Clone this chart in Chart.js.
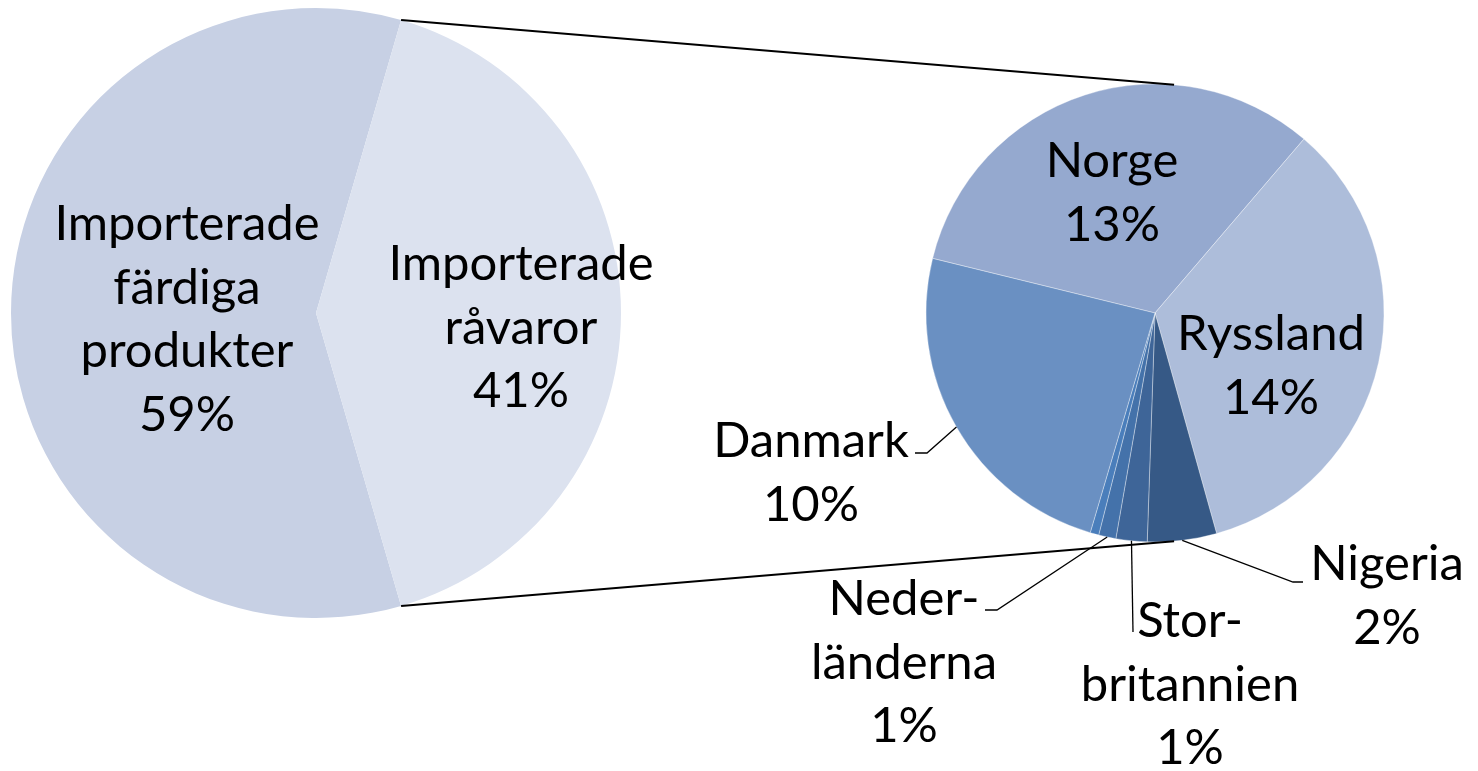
<!DOCTYPE html>
<html>
<head>
<meta charset="utf-8">
<script src="https://cdn.jsdelivr.net/npm/chart.js@4.4.1/dist/chart.umd.min.js"></script>
<style>
    html, body { margin: 0; padding: 0; background: #fff; }
    #wrap { position: relative; width: 1478px; height: 771px; }
    #wrap canvas { position: absolute; left: 0; top: 0; }
</style>
</head>
<body>
<div id="wrap">
    <canvas id="mainPie" width="1478" height="771"></canvas>
    <canvas id="subPie" width="1478" height="771"></canvas>
</div>
<script>
// --- Data ---
// main pie (% of all imports)
const mainNames = ['Importerade färdiga produkter', 'Importerade råvaror'];
const mainLabelLines = [['Importerade', 'färdiga', 'produkter'], ['Importerade', 'råvaror']];
const mainValues = [59, 41];
const mainColors = ['#c7d0e4', '#dce2ef'];

// second pie: råvaror split by country (% of all imports)
const subNames = ['Norge', 'Ryssland', 'Nigeria', 'Storbritannien', 'Nederländerna', 'Övriga', 'Danmark'];
const subLabelLines = [['Norge'], ['Ryssland'], ['Nigeria'], ['Stor-', 'britannien'], ['Neder-', 'länderna'], [], ['Danmark']];
const subValues = [13.3, 14.1, 2.0, 0.9, 0.5, 0.25, 9.95];
const subColors = ['#95a9cf', '#adbdda', '#365986', '#3e6598', '#4472aa', '#4a7ebb', '#6a90c2'];

// --- Layout ---
const FONT = '49px Lato';
const LINE_H = 63.5;
const mainCenter = { x: 316, y: 313, r: 305 };
const subCenter = { x: 1155, y: 313, r: 229 };

// label anchors: centre x, first baseline y; leader: knee point + end x
const mainLabelPos = [{ x: 187, y: 240 }, { x: 521, y: 280 }];
const subLabelPos = [
    { x: 1112, y: 177 },
    { x: 1271, y: 350 },
    { x: 1387, y: 580, knee: [1293, 582], end: 1303 },
    { x: 1190, y: 637, knee: [1133, 632], end: 1133 },
    { x: 904, y: 615, knee: [997, 610], end: 985 },
    null,
    { x: 811, y: 457, knee: [927, 453], end: 915 }
];

function paddingFor(c, w, h) {
    return { left: c.x - c.r, right: w - c.x - c.r, top: c.y - c.r, bottom: h - c.y - c.r };
}

function pct(v) { return Math.round(v) + '%'; }

function drawLabels(ctx, lines, pos) {
    ctx.save();
    ctx.font = FONT;
    ctx.fillStyle = '#000';
    ctx.textAlign = 'center';
    ctx.textBaseline = 'alphabetic';
    lines.forEach((l, i) => ctx.fillText(l, pos.x, pos.y + i * LINE_H));
    ctx.restore();
}

const mainLabelPlugin = {
    id: 'mainLabels',
    afterDraw(chart) {
        const ctx = chart.ctx;
        mainValues.forEach((v, i) => {
            drawLabels(ctx, mainLabelLines[i].concat(pct(v)), mainLabelPos[i]);
        });
    }
};

let mainChart = null;

function tangentPoint(p, c, r, upper) {
    const dx = p.x - c.x, dy = p.y - c.y;
    const d = Math.hypot(dx, dy);
    const base = Math.atan2(dy, dx);
    const off = Math.acos(r / d);
    const a1 = base + off, a2 = base - off;
    const p1 = { x: c.x + r * Math.cos(a1), y: c.y + r * Math.sin(a1) };
    const p2 = { x: c.x + r * Math.cos(a2), y: c.y + r * Math.sin(a2) };
    if (upper) return p1.y < p2.y ? p1 : p2;
    return p1.y > p2.y ? p1 : p2;
}

const subLabelPlugin = {
    id: 'subLabels',
    afterDraw(chart) {
        const ctx = chart.ctx;
        const arcs = chart.getDatasetMeta(0).data;

        // leader lines from slice mid-angle on the rim
        ctx.save();
        ctx.strokeStyle = '#000';
        ctx.lineWidth = 1.3;
        arcs.forEach((arc, i) => {
            const p = subLabelPos[i];
            if (!p || !p.knee) return;
            const mid = (arc.startAngle + arc.endAngle) / 2;
            ctx.beginPath();
            ctx.moveTo(arc.x + arc.outerRadius * Math.cos(mid), arc.y + arc.outerRadius * Math.sin(mid));
            ctx.lineTo(p.knee[0], p.knee[1]);
            ctx.lineTo(p.end, p.knee[1]);
            ctx.stroke();
        });
        ctx.restore();

        // series lines from the råvaror slice to the second pie
        if (mainChart) {
            const src = mainChart.getDatasetMeta(0).data[1];
            const c = { x: arcs[0].x, y: arcs[0].y };
            const r = arcs[0].outerRadius;
            const top = { x: src.x + src.outerRadius * Math.cos(src.startAngle), y: src.y + src.outerRadius * Math.sin(src.startAngle) };
            const bot = { x: src.x + src.outerRadius * Math.cos(src.endAngle), y: src.y + src.outerRadius * Math.sin(src.endAngle) };
            const t1 = tangentPoint(top, c, r, true);
            const t2 = tangentPoint(bot, c, r, false);
            ctx.save();
            ctx.strokeStyle = '#000';
            ctx.lineWidth = 2;
            ctx.beginPath();
            ctx.moveTo(top.x, top.y); ctx.lineTo(t1.x, t1.y);
            ctx.moveTo(bot.x, bot.y); ctx.lineTo(t2.x, t2.y);
            ctx.stroke();
            ctx.restore();
        }

        subValues.forEach((v, i) => {
            if (!subLabelPos[i]) return;
            drawLabels(ctx, subLabelLines[i].concat(pct(v)), subLabelPos[i]);
        });
    }
};

const W = 1478, H = 771;
const mainTotal = mainValues.reduce((a, b) => a + b, 0);

// råvaror slice centred on the right-hand side
const mainRotation = 90 + (mainValues[1] / mainTotal) * 180;

mainChart = new Chart(document.getElementById('mainPie'), {
    type: 'pie',
    data: {
        labels: mainNames,
        datasets: [{
            data: mainValues,
            backgroundColor: mainColors,
            borderWidth: 0
        }]
    },
    options: {
        responsive: false,
        animation: false,
        rotation: mainRotation,
        radius: mainCenter.r,
        layout: { padding: paddingFor(mainCenter, W, H) },
        plugins: { legend: { display: false }, tooltip: { enabled: false } }
    },
    plugins: [mainLabelPlugin]
});

new Chart(document.getElementById('subPie'), {
    type: 'pie',
    data: {
        labels: subNames,
        datasets: [{
            data: subValues,
            backgroundColor: subColors,
            borderColor: 'rgba(255,255,255,0.35)',
            borderWidth: 1
        }]
    },
    options: {
        responsive: false,
        animation: false,
        rotation: -76.2,
        radius: subCenter.r,
        layout: { padding: paddingFor(subCenter, W, H) },
        plugins: { legend: { display: false }, tooltip: { enabled: false } }
    },
    plugins: [subLabelPlugin]
});
</script>
</body>
</html>
